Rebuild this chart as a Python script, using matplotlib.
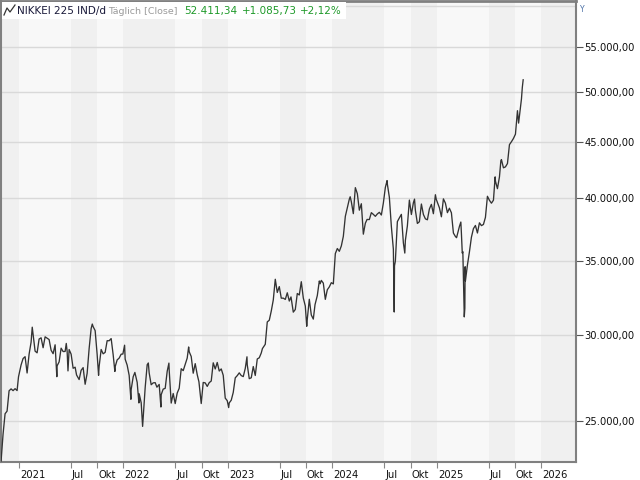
import matplotlib
matplotlib.use('Agg')
import matplotlib.pyplot as plt
import matplotlib.dates as mdates
import matplotlib.transforms as mtransforms
from matplotlib.lines import Line2D
from matplotlib.patches import Rectangle
from matplotlib.ticker import FuncFormatter, FixedLocator
import pandas as pd

# NIKKEI 225, closes (weekly + a few daily extremes)
dates_2020 = ['2020-10-30', '2020-11-06', '2020-11-13', '2020-11-20', '2020-11-27', '2020-12-04',
              '2020-12-11', '2020-12-18', '2020-12-25', '2020-12-30']
close_2020 = [22977, 24325, 25385, 25527, 26644, 26751, 26652, 26763, 26656, 27444]

dates_2021 = ['2021-01-08', '2021-01-15', '2021-01-22', '2021-01-29', '2021-02-05', '2021-02-12',
              '2021-02-16', '2021-02-19', '2021-02-26', '2021-03-05', '2021-03-12', '2021-03-19',
              '2021-03-26', '2021-04-02', '2021-04-09', '2021-04-16', '2021-04-23', '2021-04-30',
              '2021-05-07', '2021-05-13', '2021-05-14', '2021-05-21', '2021-05-28', '2021-06-04',
              '2021-06-11', '2021-06-15', '2021-06-18', '2021-06-21', '2021-06-25', '2021-07-02',
              '2021-07-09', '2021-07-16', '2021-07-21', '2021-07-30', '2021-08-06', '2021-08-13',
              '2021-08-20', '2021-08-27', '2021-09-03', '2021-09-10', '2021-09-14', '2021-09-17',
              '2021-09-24', '2021-10-01', '2021-10-06', '2021-10-08', '2021-10-15', '2021-10-22',
              '2021-10-29', '2021-11-05', '2021-11-12', '2021-11-19', '2021-11-26', '2021-12-02',
              '2021-12-03', '2021-12-10', '2021-12-17', '2021-12-24', '2021-12-30']
close_2021 = [28139, 28519, 28631, 27663, 28779, 29520,
              30467, 30018, 28966, 28864, 29717, 29792,
              29176, 29854, 29768, 29683, 29020, 28812,
              29357, 27448, 28084, 28317, 29149, 28941,
              28948, 29441, 28964, 27785, 29066, 28783,
              27940, 28003, 27548, 27283, 27820, 27977,
              27013, 27641, 29128, 30381, 30670, 30500,
              30248, 28771, 27528, 28049, 29068, 28804,
              28892, 29611, 29609, 29745, 28751, 27753,
              28029, 28437, 28545, 28782, 28791]

dates_2022 = ['2022-01-05', '2022-01-07', '2022-01-14', '2022-01-21', '2022-01-27', '2022-01-28',
              '2022-02-04', '2022-02-10', '2022-02-18', '2022-02-24', '2022-02-25', '2022-03-04',
              '2022-03-09', '2022-03-11', '2022-03-18', '2022-03-25', '2022-03-29', '2022-04-01',
              '2022-04-08', '2022-04-15', '2022-04-22', '2022-04-28', '2022-05-06', '2022-05-12',
              '2022-05-13', '2022-05-20', '2022-05-27', '2022-06-03', '2022-06-09', '2022-06-10',
              '2022-06-17', '2022-06-24', '2022-07-01', '2022-07-08', '2022-07-15', '2022-07-22',
              '2022-07-29', '2022-08-05', '2022-08-12', '2022-08-17', '2022-08-19', '2022-08-26',
              '2022-09-02', '2022-09-09', '2022-09-16', '2022-09-22', '2022-09-30', '2022-10-07',
              '2022-10-14', '2022-10-21', '2022-10-28', '2022-11-04', '2022-11-11', '2022-11-18',
              '2022-11-25', '2022-12-02', '2022-12-09', '2022-12-16', '2022-12-23', '2022-12-30']
close_2022 = [29332, 28478, 28124, 27522, 26170, 26717,
              27439, 27696, 27122, 25970, 26476, 25985,
              24717, 25162, 26827, 28149, 28252, 27665,
              26985, 27093, 27105, 26848, 27003, 25748,
              26427, 26739, 26781, 27761, 28246, 27824,
              25963, 26491, 25935, 26517, 26788, 27914,
              27801, 28175, 28546, 29222, 28930, 28641,
              27650, 28214, 27567, 27153, 25937, 27116,
              27091, 26891, 27105, 27199, 28263, 27899,
              28283, 27777, 27901, 27527, 26235, 26095]

dates_2023 = ['2023-01-04', '2023-01-06', '2023-01-13', '2023-01-20', '2023-01-27', '2023-02-03',
              '2023-02-10', '2023-02-17', '2023-02-24', '2023-03-03', '2023-03-09', '2023-03-10',
              '2023-03-17', '2023-03-24', '2023-03-31', '2023-04-07', '2023-04-14', '2023-04-21',
              '2023-04-28', '2023-05-02', '2023-05-12', '2023-05-19', '2023-05-26', '2023-06-02',
              '2023-06-09', '2023-06-16', '2023-06-23', '2023-06-30', '2023-07-07', '2023-07-14',
              '2023-07-21', '2023-07-28', '2023-08-04', '2023-08-10', '2023-08-18', '2023-08-25',
              '2023-09-01', '2023-09-08', '2023-09-15', '2023-09-22', '2023-09-29', '2023-10-04',
              '2023-10-06', '2023-10-13', '2023-10-20', '2023-10-27', '2023-11-02', '2023-11-10',
              '2023-11-17', '2023-11-20', '2023-11-24', '2023-12-01', '2023-12-08', '2023-12-15',
              '2023-12-22', '2023-12-29']
close_2023 = [25717, 25973, 26120, 26553, 27382, 27509,
              27671, 27513, 27453, 27927, 28623, 28143,
              27333, 27385, 28041, 27518, 28493, 28564,
              28856, 29123, 29388, 30808, 30916, 31524,
              32265, 33706, 32781, 33189, 32388, 32391,
              32304, 32759, 32193, 32474, 31450, 31624,
              32710, 32607, 33533, 32402, 31858, 30526,
              30995, 32315, 31259, 30991, 31950, 32568,
              33585, 33388, 33626, 33432, 32308, 32970,
              33169, 33464]

dates_2024 = ['2024-01-05', '2024-01-12', '2024-01-19', '2024-01-26', '2024-02-02', '2024-02-09',
              '2024-02-16', '2024-02-22', '2024-03-01', '2024-03-04', '2024-03-08', '2024-03-15',
              '2024-03-22', '2024-03-29', '2024-04-05', '2024-04-12', '2024-04-19', '2024-04-26',
              '2024-05-02', '2024-05-10', '2024-05-17', '2024-05-24', '2024-05-31', '2024-06-07',
              '2024-06-14', '2024-06-21', '2024-06-28', '2024-07-05', '2024-07-11', '2024-07-12',
              '2024-07-19', '2024-07-26', '2024-08-02', '2024-08-05', '2024-08-06', '2024-08-09',
              '2024-08-16', '2024-08-23', '2024-08-30', '2024-09-06', '2024-09-11', '2024-09-13',
              '2024-09-20', '2024-09-27', '2024-10-04', '2024-10-11', '2024-10-15', '2024-10-18',
              '2024-10-25', '2024-11-01', '2024-11-08', '2024-11-15', '2024-11-22', '2024-11-29',
              '2024-12-06', '2024-12-13', '2024-12-20', '2024-12-27', '2024-12-30']
close_2024 = [33377, 35577, 35963, 35751, 36158, 36897,
              38487, 39098, 39910, 40109, 39688, 38707,
              40888, 40369, 38992, 39523, 37068, 37934,
              38236, 38229, 38787, 38646, 38488, 38683,
              38815, 38596, 39583, 40912, 41500, 41190,
              40063, 37667, 35910, 31458, 34675, 35025,
              38063, 38364, 38648, 36391, 35620, 36581,
              37724, 39830, 38636, 39605, 39910, 38982,
              37914, 38054, 39500, 38642, 38284, 38208,
              39091, 39470, 38702, 40281, 39895]

dates_2025 = ['2025-01-10', '2025-01-17', '2025-01-24', '2025-01-31', '2025-02-07', '2025-02-14',
              '2025-02-21', '2025-02-28', '2025-03-07', '2025-03-11', '2025-03-14', '2025-03-21',
              '2025-03-26', '2025-03-28', '2025-03-31', '2025-04-02', '2025-04-04', '2025-04-07',
              '2025-04-09', '2025-04-10', '2025-04-11', '2025-04-18', '2025-04-25', '2025-05-02',
              '2025-05-09', '2025-05-16', '2025-05-23', '2025-05-30', '2025-06-06', '2025-06-13',
              '2025-06-20', '2025-06-27', '2025-07-04', '2025-07-11', '2025-07-18', '2025-07-24',
              '2025-07-25', '2025-08-01', '2025-08-08', '2025-08-13', '2025-08-15', '2025-08-22',
              '2025-08-29', '2025-09-05', '2025-09-12', '2025-09-19', '2025-09-26', '2025-10-03',
              '2025-10-10', '2025-10-14', '2025-10-17', '2025-10-24', '2025-10-27', '2025-10-30']
close_2025 = [39190, 38451, 39931, 39572, 38787, 39149,
              38776, 37155, 36887, 36793, 37053, 37677,
              38027, 37120, 35617, 35725, 33781, 31136,
              31714, 34609, 33586, 34730, 35705, 36831,
              37503, 37754, 37160, 37965, 37742, 37834,
              38403, 40150, 39811, 39570, 39819, 41826,
              41456, 40800, 41820, 43274, 43378, 42633,
              42718, 43018, 44768, 45046, 45355, 45769,
              48089, 46847, 47582, 49299, 50512, 51326]

y_ticks = [25000, 30000, 35000, 40000, 45000, 50000, 55000]
grid_levels = y_ticks + [60000]

dates = pd.to_datetime(dates_2020 + dates_2021 + dates_2022 + dates_2023 + dates_2024 + dates_2025)
close = close_2020 + close_2021 + close_2022 + close_2023 + close_2024 + close_2025

plt.rcParams['font.family'] = ['DejaVu Sans']

fig = plt.figure(figsize=(6.4, 4.8), dpi=100)
fig.patch.set_facecolor('white')
W, H = 640, 480
ax = fig.add_axes([0.5 / W, 18 / H, 575 / W, 461 / H])
ax.set_facecolor('#f7f7f7')

# alternating shaded periods between the Jan / Jul / Okt ticks
bounds = [pd.Timestamp('2020-10-01')]
for yr in range(2021, 2027):
    for m in (1, 7, 10):
        bounds.append(pd.Timestamp(yr, m, 1))
bounds.append(pd.Timestamp('2026-07-01'))
for i in range(len(bounds) - 1):
    col = '#f0f0f0' if i % 2 == 0 else '#f8f8f8'
    ax.axvspan(bounds[i], bounds[i + 1], color=col, lw=0, zorder=0)

for lvl in grid_levels:
    ax.axhline(lvl, color='#d9d9d9', lw=1, zorder=1)

ax.plot(dates, close, color='#333333', lw=0.95, zorder=3)

ax.set_yscale('log')
ax.set_ylim(22930, 60600)
ax.set_xlim(pd.Timestamp('2020-10-28'), pd.Timestamp('2026-05-01'))

ax.yaxis.tick_right()
ax.yaxis.set_major_locator(FixedLocator(y_ticks))
ax.yaxis.set_minor_locator(FixedLocator([]))
ax.yaxis.set_major_formatter(FuncFormatter(
    lambda v, p: f'{v:,.2f}'.replace(',', 'X').replace('.', ',').replace('X', '.')))
ax.tick_params(axis='y', which='major', length=5, width=0.8, color='#555555',
               labelsize=7.2, labelcolor='#111111', pad=1.5)

tick_pos, tick_lab = [], []
for yr in range(2021, 2027):
    tick_pos.append(pd.Timestamp(yr, 1, 1))
    tick_lab.append(str(yr))
    if yr < 2026:
        tick_pos.append(pd.Timestamp(yr, 7, 1))
        tick_lab.append('Jul')
        tick_pos.append(pd.Timestamp(yr, 10, 1))
        tick_lab.append('Okt')
ax.set_xticks(mdates.date2num(tick_pos))
ax.set_xticklabels(tick_lab)
ax.tick_params(axis='x', length=4, width=0.8, color='#888888', labelsize=7.2,
               labelcolor='#111111', pad=2)
offset = mtransforms.ScaledTranslation(1 / 100, 0, fig.dpi_scale_trans)
for lbl in ax.get_xticklabels():
    lbl.set_horizontalalignment('left')
    lbl.set_transform(lbl.get_transform() + offset)

for side in ('left', 'right', 'top', 'bottom'):
    ax.spines[side].set_color('#808080')
    ax.spines[side].set_linewidth(1.5)
ax.spines['top'].set_linewidth(2)

# header
fig.add_artist(Rectangle((2 / W, 1 - 19 / H), 344 / W, 17 / H, transform=fig.transFigure,
                         facecolor='white', edgecolor='none', zorder=5))
fig.add_artist(Line2D([4 / W, 7 / W, 10 / W, 15 / W], [1 - 15 / H, 1 - 8 / H, 1 - 12 / H, 1 - 5 / H],
                      transform=fig.transFigure, color='#333333', lw=0.9, zorder=6))
hy = 1 - 11 / H
fig.text(17 / W, hy, 'NIKKEI 225 IND/d', color='#1a1a3a', fontsize=7.5, va='center', zorder=6)
fig.text(108 / W, hy, 'Täglich [Close]', color='#9a9a9a', fontsize=6.8, va='center', zorder=6)
fig.text(184 / W, hy, '52.411,34', color='#1f9a2a', fontsize=7.5, va='center', zorder=6)
fig.text(242 / W, hy, '+1.085,73', color='#1f9a2a', fontsize=7.5, va='center', zorder=6)
fig.text(300 / W, hy, '+2,12%', color='#1f9a2a', fontsize=7.5, va='center', zorder=6)
fig.text(580 / W, 1 - 10 / H, 'Y', color='#4a6fa5', fontsize=5.5, va='center')

fig.savefig('out.png', dpi=100, facecolor='white')
